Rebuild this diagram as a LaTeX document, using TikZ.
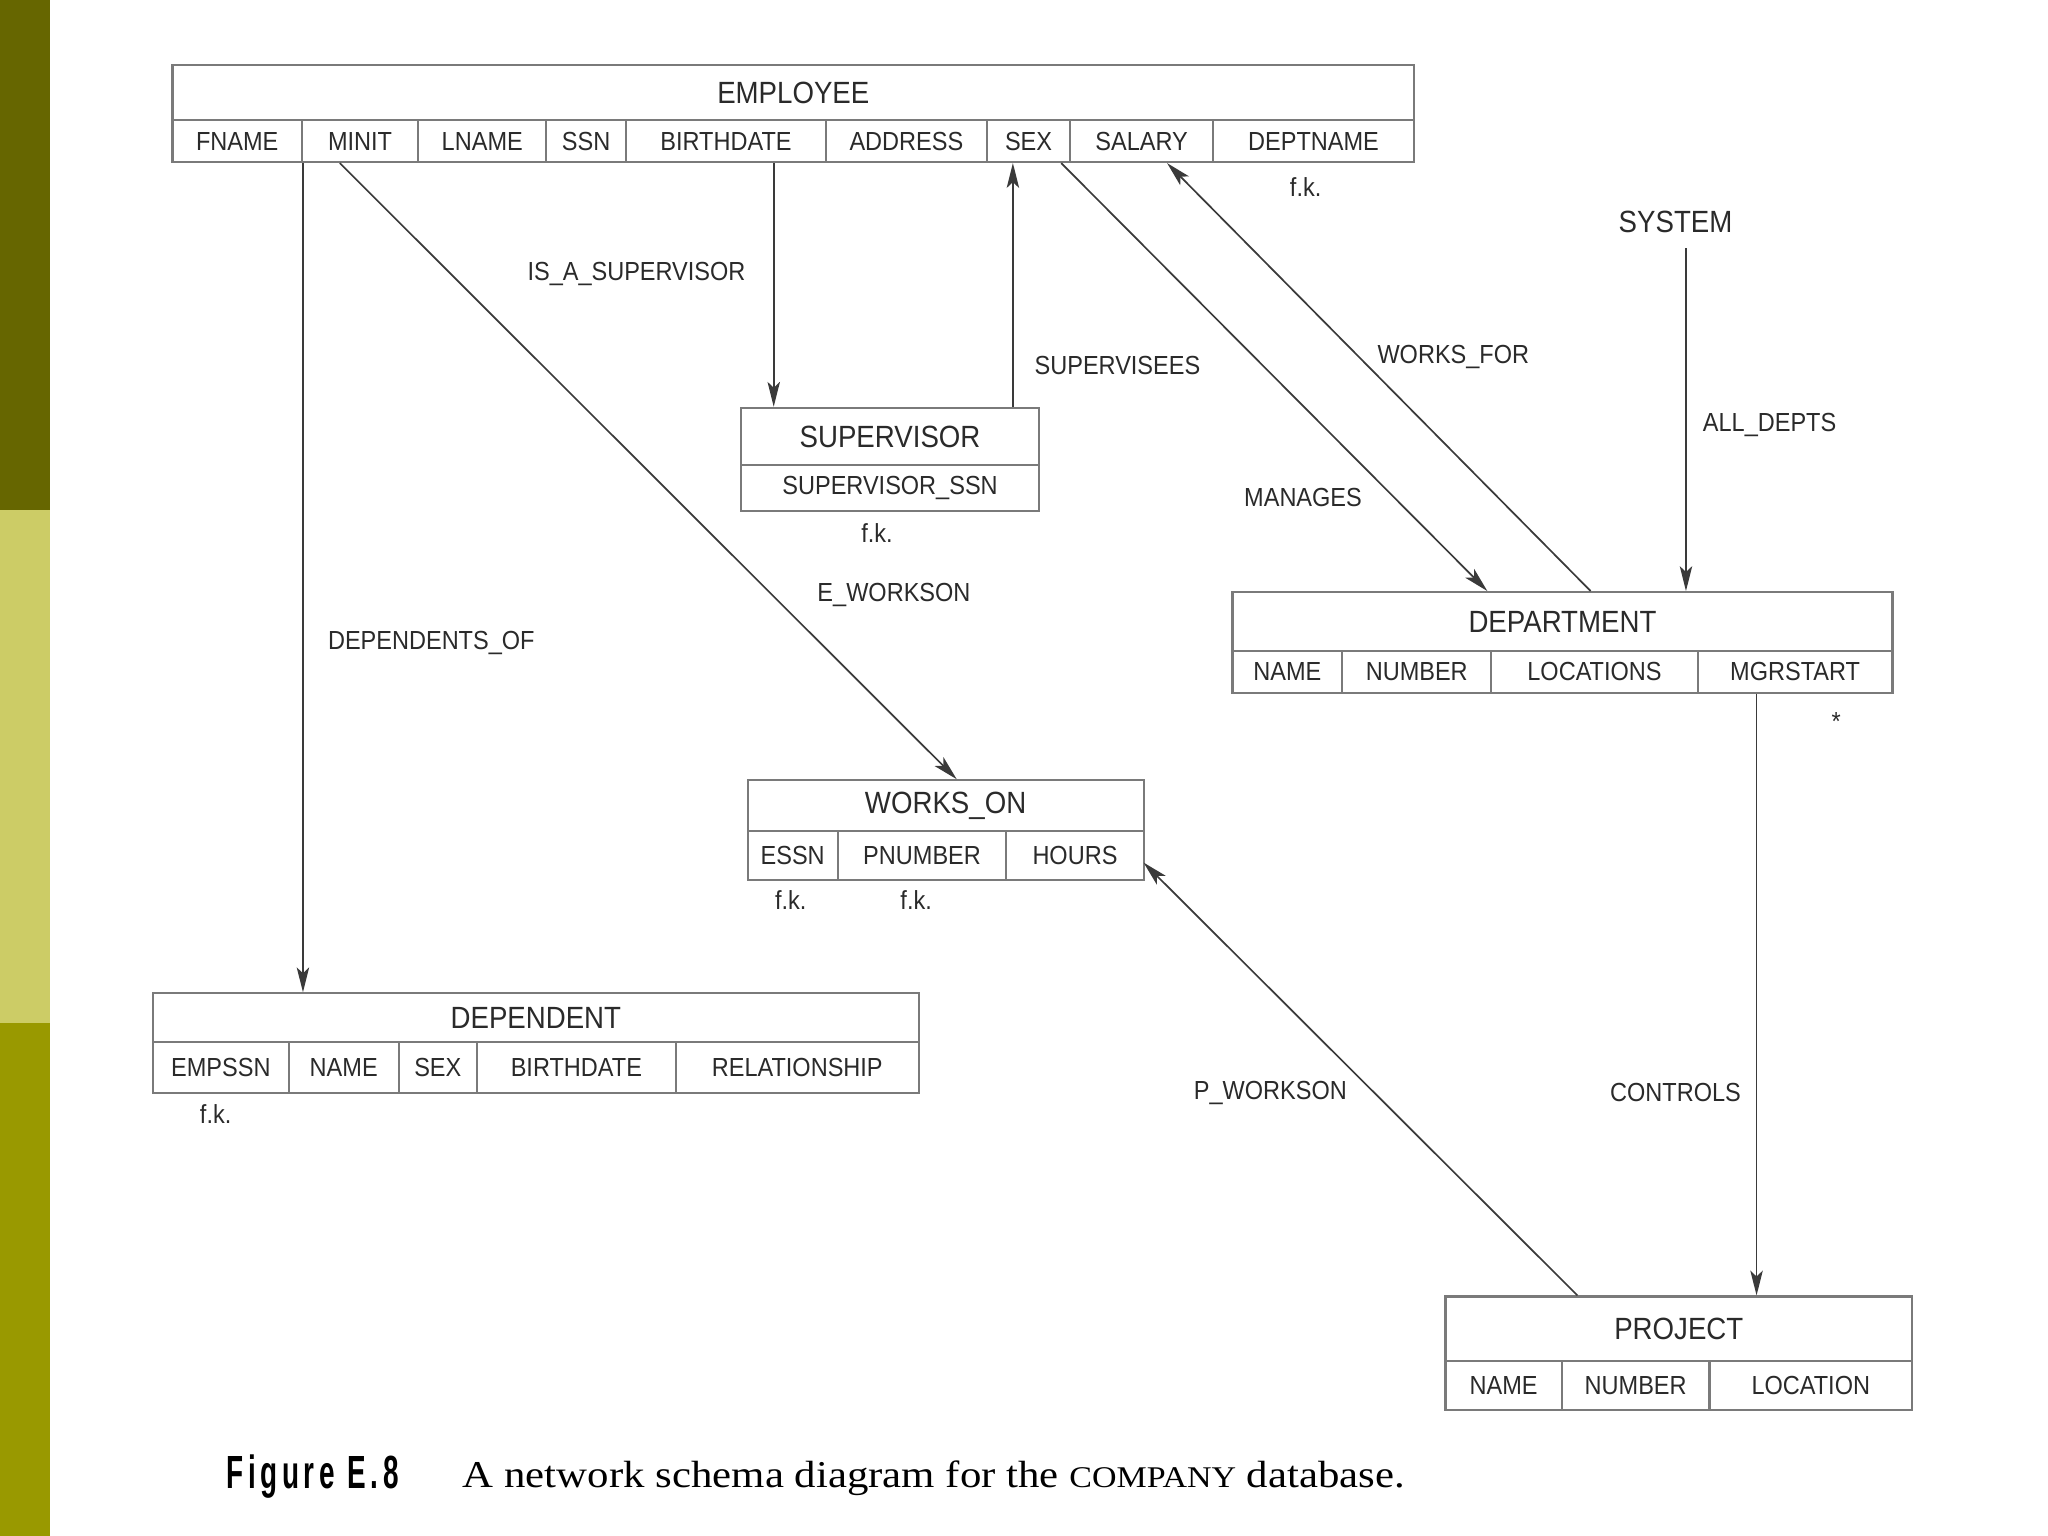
\documentclass[tikz,border=0pt]{standalone}
\usepackage{fontspec}
\setmainfont{Liberation Sans}[FakeStretch=0.9]
\newfontfamily\capserif{Liberation Serif}[FakeStretch=1.13]
\newfontfamily\figfont{Liberation Sans}[FakeStretch=0.6, LetterSpace=10]
\usetikzlibrary{arrows.meta}
\definecolor{oliveA}{HTML}{666600}
\definecolor{oliveB}{HTML}{CCCC66}
\definecolor{oliveC}{HTML}{999900}
\definecolor{boxgray}{HTML}{7A7A7A}
\definecolor{linegray}{HTML}{3A3A3A}
\definecolor{txt}{HTML}{2A2A2A}
\newcommand\mycell[7]{%
  \node[#7, minimum width={#3-#2}, minimum height={#5-#4}] (#1) at ({(#2+#3)/2},{(#4+#5)/2}) {#6};}
\tikzset{
  cell/.style={draw=boxgray, line width=1.6pt, inner sep=0pt, text=txt,
    font=\fontsize{20}{20}\selectfont},
  ttl/.style={cell, font=\fontsize{23.5}{23.5}\selectfont},
  lbl/.style={text=txt, inner sep=0pt, font=\fontsize{20}{20}\selectfont},
  conn/.style={draw=linegray, line width=1.3pt},
  arr/.style={conn, -{Stealth[length=19pt,width=9.5pt,inset=4.5pt]}},
}
\begin{document}
\begin{tikzpicture}[x=1pt,y=-1pt]
\useasboundingbox (0,0) rectangle (1567,1175);
\fill[white] (0,0) rectangle (1567,1175);
% side strips
\fill[oliveA] (0,0) rectangle (38,390);
\fill[oliveB] (0,390) rectangle (38,783);
\fill[oliveC] (0,783) rectangle (38,1175);

% EMPLOYEE
\mycell{emp}{132}{1082}{50}{92}{EMPLOYEE}{ttl}
\mycell{emp-fname}{132}{231}{92}{124}{FNAME}{cell}
\mycell{emp-minit}{231}{320}{92}{124}{MINIT}{cell}
\mycell{emp-lname}{320}{418}{92}{124}{LNAME}{cell}
\mycell{emp-ssn}{418}{479}{92}{124}{SSN}{cell}
\mycell{emp-bdate}{479}{632}{92}{124}{BIRTHDATE}{cell}
\mycell{emp-addr}{632}{755}{92}{124}{ADDRESS}{cell}
\mycell{emp-sex}{755}{819}{92}{124}{SEX}{cell}
\mycell{emp-sal}{819}{928}{92}{124}{SALARY}{cell}
\mycell{emp-dname}{928}{1082}{92}{124}{DEPTNAME}{cell}
\node[lbl] (fk1) at (999,143) {f.k.};

% SYSTEM
\node[lbl, font=\fontsize{23.5}{23.5}\selectfont] (sys) at (1282,170) {SYSTEM};

% SUPERVISOR
\mycell{sup}{567}{795}{312}{356}{SUPERVISOR}{ttl}
\mycell{sup-ssn}{567}{795}{356}{391}{SUPERVISOR\_SSN}{cell}
\node[lbl] (fk2) at (671,408) {f.k.};

% DEPARTMENT
\mycell{dept}{943}{1448}{453}{498}{DEPARTMENT}{ttl}
\mycell{dept-name}{943}{1027}{498}{530}{NAME}{cell}
\mycell{dept-num}{1027}{1141}{498}{530}{NUMBER}{cell}
\mycell{dept-loc}{1141}{1299}{498}{530}{LOCATIONS}{cell}
\mycell{dept-mgr}{1299}{1448}{498}{530}{MGRSTART}{cell}
\node[lbl] (star) at (1405,552) {*};

% WORKS_ON
\mycell{won}{572}{875}{597}{636}{WORKS\_ON}{ttl}
\mycell{won-essn}{572}{641}{636}{673}{ESSN}{cell}
\mycell{won-pnum}{641}{770}{636}{673}{PNUMBER}{cell}
\mycell{won-hours}{770}{875}{636}{673}{HOURS}{cell}
\node[lbl] (fk3) at (605,689) {f.k.};
\node[lbl] (fk4) at (701,689) {f.k.};

% DEPENDENT
\mycell{dep}{117}{703}{760}{797}{DEPENDENT}{ttl}
\mycell{dep-essn}{117}{221}{797}{836}{EMPSSN}{cell}
\mycell{dep-name}{221}{305}{797}{836}{NAME}{cell}
\mycell{dep-sex}{305}{365}{797}{836}{SEX}{cell}
\mycell{dep-bdate}{365}{517}{797}{836}{BIRTHDATE}{cell}
\mycell{dep-rel}{517}{703}{797}{836}{RELATIONSHIP}{cell}
\node[lbl] (fk5) at (165,852) {f.k.};

% PROJECT
\mycell{proj}{1106}{1463}{992}{1041}{PROJECT}{ttl}
\mycell{proj-name}{1106}{1195}{1041}{1079}{NAME}{cell}
\mycell{proj-num}{1195}{1308}{1041}{1079}{NUMBER}{cell}
\mycell{proj-loc}{1308}{1463}{1041}{1079}{LOCATION}{cell}

% connectors
\draw[arr] (emp-fname.south east) -- (emp-fname.south east |- dep.north);
\draw[arr] (260,0 |- emp-minit.south) -- (732,0 |- won.north);
\draw[arr] (592,0 |- emp-bdate.south) -- (592,0 |- sup.north);
\draw[arr] (775,0 |- sup.north) -- (775,0 |- emp-sex.south);
\draw[arr] (812,0 |- emp-sex.south) -- (1138,0 |- dept.north);
\draw[arr] (1217,0 |- dept.north) -- (893,0 |- emp-sal.south);
\draw[arr] (1290,190) -- (1290,0 |- dept.north);
\draw[arr] (1344,0 |- dept-mgr.south) -- (1344,0 |- proj.north);
\draw[arr] (1207,0 |- proj.north) -- (875,660);

% connector labels
\node[lbl] (l1) at (330,492) {DEPENDENTS\_OF};
\node[lbl] (l2) at (684,455) {E\_WORKSON};
\node[lbl] (l3) at (487,210) {IS\_A\_SUPERVISOR};
\node[lbl] (l4) at (855,280) {SUPERVISEES};
\node[lbl] (l5) at (997,381) {MANAGES};
\node[lbl] (l6) at (1112,273) {WORKS\_FOR};
\node[lbl] (l7) at (1354,325) {ALL\_DEPTS};
\node[lbl] (l8) at (1282,836) {CONTROLS};
\node[lbl] (l9) at (972,836) {P\_WORKSON};

% caption
\node[anchor=base west, inner sep=0pt, text=black, font=\figfont\bfseries\fontsize{35.6}{36}\selectfont] (figlab) at (173,1139) {Figure E.8};
\node[anchor=base west, inner sep=0pt, text=black, font=\capserif\fontsize{29}{29}\selectfont] (cap) at (354,1138) {A network schema diagram for the {\fontsize{23}{23}\selectfont COMPANY} database.};
\end{tikzpicture}
\end{document}
